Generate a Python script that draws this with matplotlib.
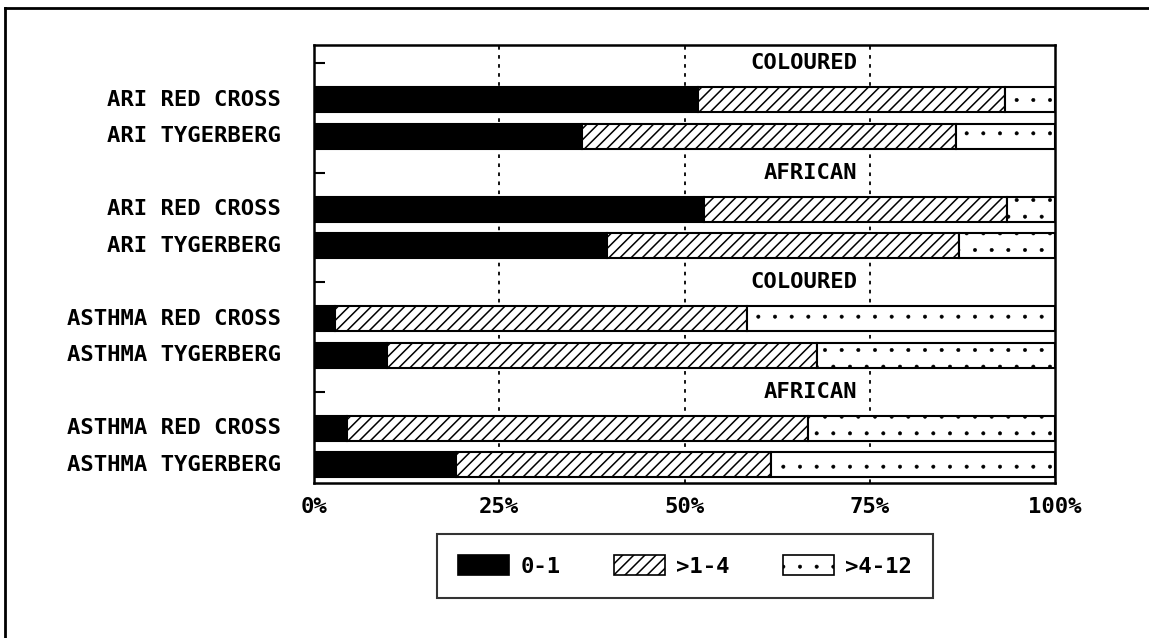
import matplotlib
matplotlib.use("Agg")
import matplotlib.pyplot as plt
from matplotlib.patches import Patch
from matplotlib.lines import Line2D

# ---- data ----
bar_labels = ["ARI RED CROSS", "ARI TYGERBERG",
              "ARI RED CROSS", "ARI TYGERBERG",
              "ASTHMA RED CROSS", "ASTHMA TYGERBERG",
              "ASTHMA RED CROSS", "ASTHMA TYGERBERG"]
group_labels = ["COLOURED", "AFRICAN", "COLOURED", "AFRICAN"]
series_names = ["0-1", ">1-4", ">4-12"]
age_0_1 = [51.8, 36.2, 52.6, 39.5, 2.8, 9.8, 4.5, 19.1]
age_1_4 = [41.4, 50.4, 40.9, 47.6, 55.7, 58.1, 62.1, 42.6]
age_4_12 = [6.8, 13.4, 6.5, 12.9, 41.5, 32.1, 33.4, 38.3]
xticks = [0, 25, 50, 75, 100]
xtick_labels = ["0%", "25%", "50%", "75%", "100%"]

FONT = dict(family="DejaVu Sans Mono", fontweight="bold", fontsize=16)

W, H = 1149, 638
fig = plt.figure(figsize=(W / 100, H / 100), dpi=100)
ax = fig.add_axes([314 / W, 1 - 483 / H, (1055 - 314) / W, (483 - 45) / H])

# slot layout: header row then two bars, repeated
bar_pos = []
header_pos = []
for g in range(4):
    header_pos.append(g * 3 + 0.5)
    bar_pos += [g * 3 + 1.5, g * 3 + 2.5]

styles = [dict(color="black", hatch=None, hlw=1.0),
          dict(color="white", hatch="///", hlw=1.1),
          dict(color="white", hatch=".", hlw=0.4)]
left = [0] * len(bar_pos)
for vals, st in zip([age_0_1, age_1_4, age_4_12], styles):
    bars = ax.barh(bar_pos, vals, left=left, height=0.68, color=st["color"],
                   hatch=st["hatch"], edgecolor="black", linewidth=1.5, zorder=3)
    for b in bars:
        if hasattr(b, "set_hatch_linewidth"):
            b.set_hatch_linewidth(st["hlw"])
    left = [l + v for l, v in zip(left, vals)]

for x in [25, 50, 75]:
    ax.axvline(x, color="black", linestyle=(0, (2, 3)), linewidth=1.3, zorder=1)

ax.set_xlim(0, 100)
ax.set_ylim(12, 0)
ax.set_xticks(xticks)
ax.set_xticklabels(xtick_labels, **FONT)
ax.tick_params(axis="x", length=0, pad=10)
ax.set_yticks(header_pos)
ax.set_yticklabels([])
ax.tick_params(axis="y", direction="in", length=8, width=1.5)
for sp in ax.spines.values():
    sp.set_linewidth(1.8)

for y, lab in zip(bar_pos, bar_labels):
    ax.text(-4.5, y, lab, ha="right", va="center", **FONT)
for y, lab in zip(header_pos, group_labels):
    ax.text(73.3, y, lab, ha="right", va="center", zorder=4, **FONT)

handles = []
for st in styles:
    p = Patch(facecolor=st["color"], hatch=st["hatch"], edgecolor="black",
              linewidth=1.2)
    handles.append(p)
leg = fig.legend(handles, series_names, ncol=3, loc="center",
                 bbox_to_anchor=(685 / W, 1 - 566 / H),
                 prop=dict(family="DejaVu Sans Mono", weight="bold", size=16),
                 frameon=True, fancybox=False, edgecolor="black",
                 handlelength=2.3, handleheight=1.0, columnspacing=2.4,
                 handletextpad=0.5, borderpad=0.95)
leg.get_frame().set_linewidth(1.5)
for p, st in zip(leg.get_patches(), styles):
    if hasattr(p, "set_hatch_linewidth"):
        p.set_hatch_linewidth(st["hlw"])

# page frame (left and top edges)
fig.add_artist(Line2D([5 / W, 5 / W], [0, 1 - 8 / H], color="black", lw=2))
fig.add_artist(Line2D([5 / W, 1], [1 - 8 / H, 1 - 8 / H], color="black", lw=2))

fig.savefig("out.png", dpi=100)
